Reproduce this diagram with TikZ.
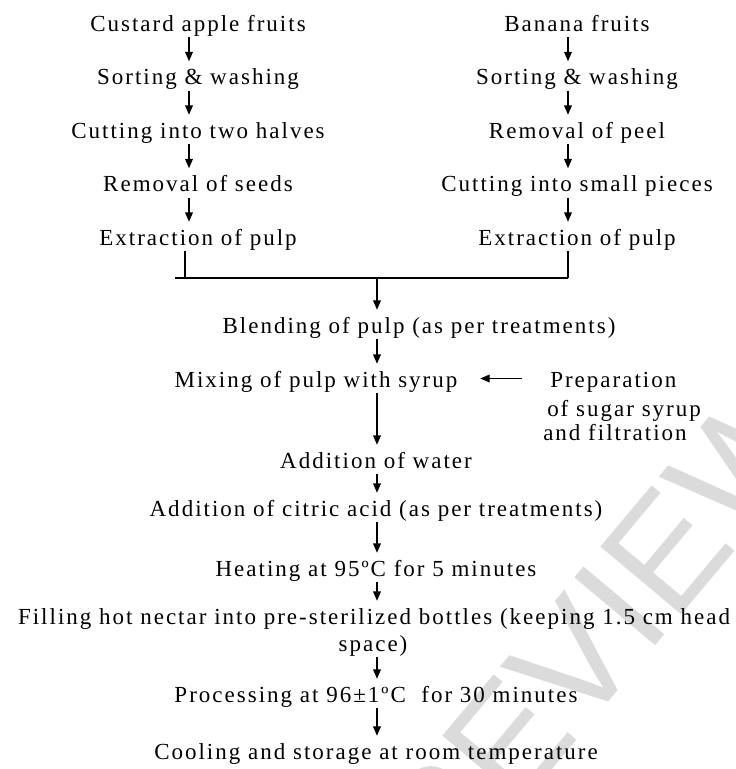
\documentclass[tikz,border=0pt]{standalone}
\usepackage{fontspec}
\setmainfont{Liberation Serif}[LetterSpace=8.7]
\newfontfamily\wmfont{Liberation Sans}
\usetikzlibrary{arrows.meta}
\newcommand\diagfont{\fontsize{17.25pt}{19pt}\selectfont}
\begin{document}
\begin{tikzpicture}[x=0.75pt,y=-0.75pt,
  lbl/.style={inner sep=0pt, text height=17.25pt, text depth=4.5pt, anchor=base, font=\diagfont},
  lblw/.style={lbl, anchor=base west},
  arr/.style={line width=0.9pt, -{Triangle[width=5.8pt,length=7pt]}},
  ln/.style={line width=0.9pt},
  wm/.style={rotate=50, text=black!14, inner sep=0pt, font=\wmfont\fontsize{115pt}{115pt}\selectfont}]
\useasboundingbox (0,0) rectangle (736,769);
\begin{scope}
\clip (0,0) rectangle (736,769);
\node[wm] (mark) at (565,672) {PREVIEW};
\end{scope}
% column guides
\coordinate (colL) at (189,0);
\coordinate (colR) at (568,0);
\coordinate (colM) at (377,0);
% left column
\node[lbl] (l1) at (198,31) {Custard apple fruits};
\node[lbl] (l2) at (198,84.5) {Sorting \& washing};
\node[lbl] (l3) at (198,138) {Cutting into two halves};
\node[lbl] (l4) at (198,191.5) {Removal of seeds};
\node[lbl] (l5) at (198,245) {Extraction of pulp};
% right column
\node[lbl] (r1) at (577,31) {Banana fruits};
\node[lbl] (r2) at (577,84.5) {Sorting \& washing};
\node[lbl] (r3) at (577,138) {Removal of peel};
\node[lbl] (r4) at (577,191.5) {Cutting into small pieces};
\node[lbl] (r5) at (577,245) {Extraction of pulp};
\foreach \a/\b in {l1/l2,l2/l3,l3/l4,l4/l5}
  \draw[arr] (\a.south -| colL) -- (\b.north -| colL);
\foreach \a/\b in {r1/r2,r2/r3,r3/r4,r4/r5}
  \draw[arr] (\a.south -| colR) -- (\b.north -| colR);
% bracket
\coordinate (bS) at (175,278);
\coordinate (bL) at (185,278);
\coordinate (bM) at (377,278);
\coordinate (bR) at (568,278);
\draw[ln] (l5.south -| bL) -- (bL);
\draw[ln] (r5.south -| bR) -- (bR);
\draw[ln] (bS) -- (bR);
% main column
\node[lbl] (blend) at (419,333) {Blending of pulp (as per treatments)};
\node[lbl] (mix) at (316,387) {Mixing of pulp with syrup};
\node[lblw] (prep1) at (550,387) {Preparation};
\node[lblw] (prep2) at (547,416) {of sugar syrup};
\node[lblw] (prep3) at (543,440) {and filtration};
\node[lbl] (water) at (376,468) {Addition of water};
\node[lbl] (citric) at (376,516) {Addition of citric acid (as per treatments)};
\node[lbl] (heat) at (376,576) {Heating at 95ºC for 5 minutes};
\node[lbl] (fill1) at (374,624) {Filling hot nectar into pre-sterilized bottles (keeping 1.5 cm head};
\node[lbl] (fill2) at (373,651) {space)};
\node[lbl] (proc) at (376,702) {Processing at 96±1ºC\ \ for 30 minutes};
\node[lbl] (cool) at (376,759) {Cooling and storage at room temperature};
\draw[arr] (bM) -- (blend.north -| bM);
\draw[arr] (blend.south -| colM) -- (mix.north -| colM);
\draw[arr, shorten <=21pt, shorten >=17pt] (prep1.west) -- (mix.east);
\draw[arr] (mix.south -| colM) -- (water.north -| colM);
\draw[arr] (water.south -| colM) -- (citric.north -| colM);
\draw[arr] (citric.south -| colM) -- (heat.north -| colM);
\draw[arr] (heat.south -| colM) -- (fill1.north -| colM);
\draw[arr] (fill2.south -| colM) -- (proc.north -| colM);
\draw[arr] (proc.south -| colM) -- (cool.north -| colM);
\end{tikzpicture}
\end{document}
